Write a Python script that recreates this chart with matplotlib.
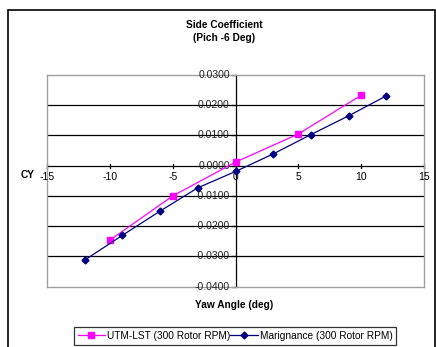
import matplotlib.pyplot as plt
from matplotlib.patches import Rectangle

plt.rcParams['font.family'] = ['Liberation Sans', 'DejaVu Sans']

# UTM-LST test data (300 rotor RPM)
utm_yaw = [-10, -5, 0, 5, 10]
utm_cy = [-0.0246, -0.0100, 0.0012, 0.0105, 0.0233]

# Marignance test data (300 rotor RPM)
mar_yaw = [-12, -9, -6, -3, 0, 3, 6, 9, 12]
mar_cy = [-0.0312, -0.0230, -0.0150, -0.0073, -0.0019, 0.0039, 0.0103, 0.0165, 0.0231]

x_ticks = [-15, -10, -5, 0, 5, 10, 15]
y_ticks = [-0.04, -0.03, -0.02, -0.01, 0.0, 0.01, 0.02, 0.03]

fig = plt.figure(figsize=(4.36, 3.47), dpi=100)
ax = fig.add_axes([47 / 436, 1 - 286.7 / 347, 377 / 436, 211.7 / 347])

# outer chart frame
fig.patches.append(Rectangle((8 / 436, -0.05), 426.5 / 436, 1 - 10 / 347 + 0.05,
                             transform=fig.transFigure, fill=False,
                             edgecolor='black', linewidth=1.2))

ax.set_xlim(-15, 15)
ax.set_ylim(-0.04, 0.03)

for y in y_ticks[1:-1]:
    if y != 0:
        ax.axhline(y, color='black', linewidth=0.9, zorder=1)

for s in ax.spines.values():
    s.set_color('#a0a0a0')
    s.set_linewidth(1.0)

ax.axhline(0, color='black', linewidth=0.9, zorder=2)
ax.axvline(0, color='black', linewidth=0.9, zorder=2)

ax.set_xticks([])
ax.set_yticks([])

# tick marks and labels on the crossing axes
for x in x_ticks:
    ax.plot([x, x], [-0.0007, 0.0007], color='black', linewidth=0.9, zorder=2, clip_on=False)
    ax.text(x, -0.0022, f'{x}', ha='center', va='top', fontsize=7.5)
for y in y_ticks:
    ax.plot([-0.25, 0], [y, y], color='black', linewidth=0.9, zorder=2, clip_on=False)
    ax.text(-0.45, y, f'{y:.4f}', ha='right', va='center', fontsize=7.5, color='#222222')

ax.plot(utm_yaw, utm_cy, color='#ff00ff', linewidth=0.9, marker='s', markersize=4.5,
        markerfacecolor='#ff00ff', markeredgecolor='#ff00ff', zorder=3,
        label='UTM-LST (300 Rotor RPM)')
ax.plot(mar_yaw, mar_cy, color='#000080', linewidth=0.9, marker='D', markersize=3.5,
        markerfacecolor='#000080', markeredgecolor='#000080', zorder=3,
        label='Marignance (300 Rotor RPM)')

fig.text(224 / 436, 1 - 25 / 347, 'Side Coefficient', ha='center', va='center',
         fontsize=7.3, fontweight='bold')
fig.text(224 / 436, 1 - 38 / 347, '(Pich -6 Deg)', ha='center', va='center',
         fontsize=7.3, fontweight='bold')
fig.text(28 / 436, 1 - 175 / 347, 'CY', ha='center', va='center',
         fontsize=7.3, fontweight='bold')
fig.text(234 / 436, 1 - 305 / 347, 'Yaw Angle (deg)', ha='center', va='center',
         fontsize=7.3, fontweight='bold')

leg = fig.legend(loc='center', bbox_to_anchor=(235 / 436, 1 - 336 / 347), ncol=2,
                 fontsize=7.3, frameon=True, fancybox=False, edgecolor='black',
                 handlelength=2.7, handletextpad=0.2, columnspacing=0.0,
                 borderpad=0.4, borderaxespad=0)
leg.get_frame().set_linewidth(0.9)

fig.savefig('out.png', dpi=100)
